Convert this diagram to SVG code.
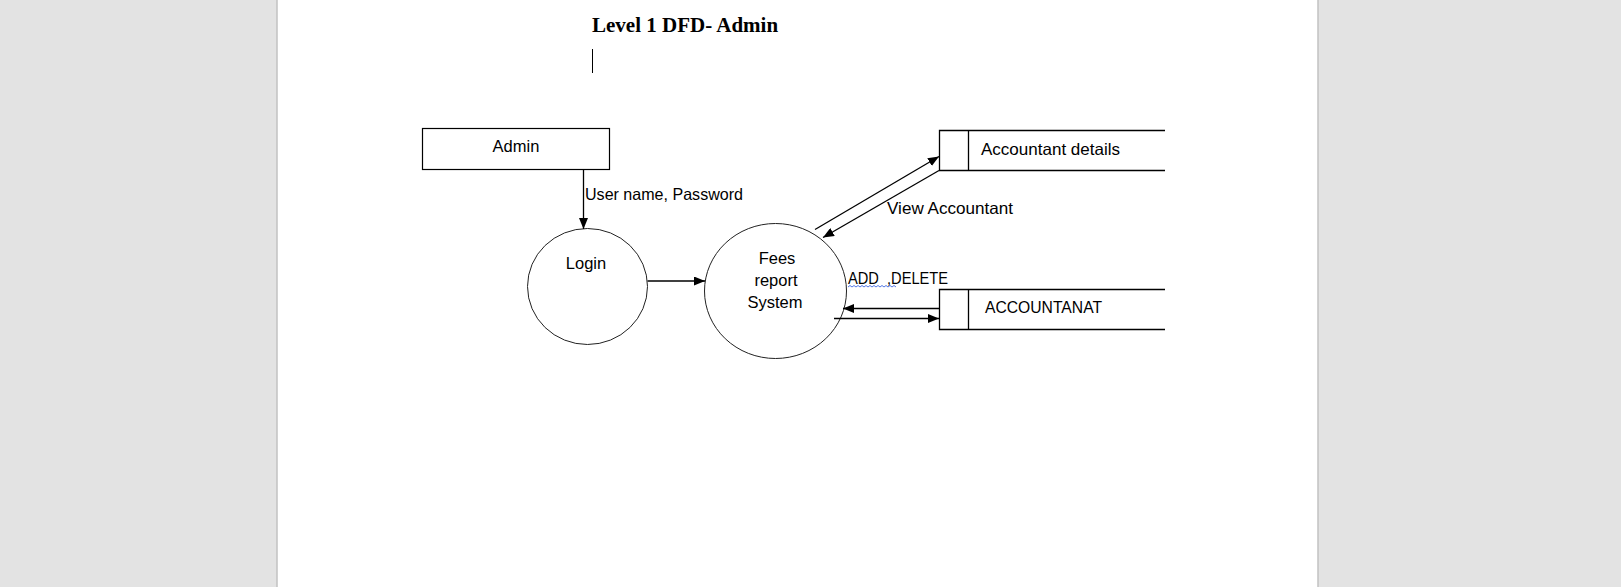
<svg xmlns="http://www.w3.org/2000/svg" width="1621" height="587" viewBox="0 0 1621 587">
<style>
.bg{fill:#e3e3e3}
.page{fill:#ffffff}
.edge{stroke:#c2c2c2;stroke-width:1.5}
.box{fill:#ffffff;stroke:#000;stroke-width:1.2}
.proc{fill:#ffffff;stroke:#222;stroke-width:1}
.line{stroke:#000;stroke-width:1.3;fill:none}
.conn{stroke:#000;stroke-width:1.3;fill:none;marker-end:url(#ah)}
.t{font-family:"Liberation Sans",Arial,sans-serif;font-size:16.5px;fill:#000}
.title{font-family:"Liberation Serif","Times New Roman",serif;font-size:21px;font-weight:bold;fill:#000}
</style>
<defs>
<marker id="ah" markerUnits="userSpaceOnUse" markerWidth="11" markerHeight="9" refX="11" refY="4.5" orient="auto">
<path d="M0,0 L11,4.5 L0,9 z" fill="#000"/>
</marker>
</defs>
<rect class="bg" x="0" y="0" width="1621" height="587"/>
<rect class="page" x="277" y="0" width="1041" height="587"/>
<line class="edge" x1="277" y1="0" x2="277" y2="587"/>
<line class="edge" x1="1318" y1="0" x2="1318" y2="587"/>
<text class="title" x="592" y="32">Level 1 DFD- Admin</text>
<line x1="592.5" y1="49" x2="592.5" y2="73" stroke="#000" stroke-width="1"/>
<g id="admin">
<rect class="box" x="422.5" y="128.5" width="187" height="41"/>
<text class="t" x="516" y="152" text-anchor="middle">Admin</text>
</g>
<g id="login">
<ellipse class="proc" cx="587.5" cy="286.5" rx="60" ry="58"/>
<text class="t" x="586" y="269" text-anchor="middle">Login</text>
</g>
<g id="fees">
<ellipse class="proc" cx="775.5" cy="291" rx="71" ry="67.5"/>
<text class="t" x="777" y="264" text-anchor="middle">Fees</text>
<text class="t" x="776" y="286" text-anchor="middle">report</text>
<text class="t" x="775" y="307.5" text-anchor="middle">System</text>
</g>
<g id="accountant-details">
<path class="line" d="M1165,130.5 H939.5 V170.5 H1165 M968.5,130.5 V170.5"/>
<text class="t" x="981" y="155" textLength="139" lengthAdjust="spacingAndGlyphs">Accountant details</text>
</g>
<g id="accountanat">
<path class="line" d="M1165,289.5 H939.5 V329.5 H1165 M968.5,289.5 V329.5"/>
<text class="t" x="985" y="313" textLength="117" lengthAdjust="spacingAndGlyphs">ACCOUNTANAT</text>
</g>
<g id="connectors">
<line class="conn" x1="583.5" y1="169.5" x2="583.5" y2="229"/>
<text class="t" x="585" y="200" textLength="158" lengthAdjust="spacingAndGlyphs">User name, Password</text>
<line class="conn" x1="647.5" y1="281" x2="705" y2="281"/>
<line class="conn" x1="815" y1="229.5" x2="939" y2="156.5"/>
<line class="conn" x1="939" y1="170.5" x2="823" y2="237.5"/>
<text class="t" x="887" y="214" textLength="126" lengthAdjust="spacingAndGlyphs">View Accountant</text>
<line class="conn" x1="939" y1="308.5" x2="843" y2="308.5"/>
<line class="conn" x1="834" y1="318.5" x2="939" y2="318.5"/>
<text class="t" x="848" y="284" style="white-space:pre" xml:space="preserve" textLength="100" lengthAdjust="spacingAndGlyphs">ADD  ,DELETE</text>
<path d="M848,287 l2,-1.5 l2,1.5 l2,-1.5 l2,1.5 l2,-1.5 l2,1.5 l2,-1.5 l2,1.5 l2,-1.5 l2,1.5 l2,-1.5 l2,1.5 l2,-1.5 l2,1.5 l2,-1.5 l2,1.5 l2,-1.5 l2,1.5 l2,-1.5 l2,1.5 l2,-1.5 l2,1.5 l2,-1.5 l2,1.5" fill="none" stroke="#4169e1" stroke-width="0.9"/>
</g>
</svg>
